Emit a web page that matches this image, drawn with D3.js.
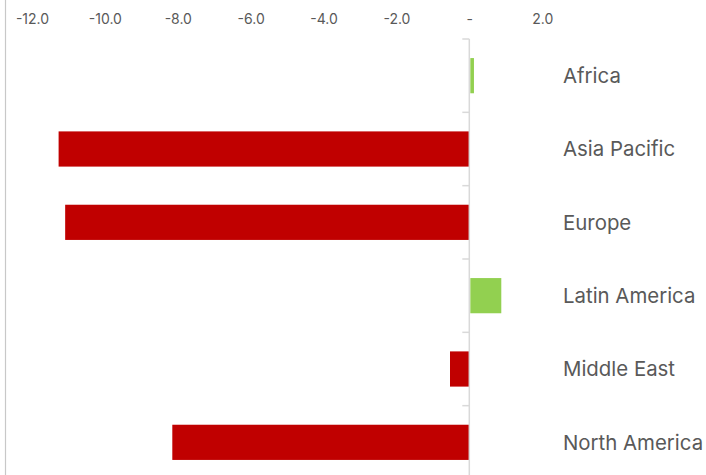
<!DOCTYPE html>
<html><head><meta charset="utf-8">
<script src="https://cdn.jsdelivr.net/npm/d3@7"></script>
<style>body{margin:0;background:#fff}svg{display:block}</style>
</head><body>
<svg id="c" width="706" height="475"></svg>
<script>
const categories = ["Africa","Asia Pacific","Europe","Latin America","Middle East","North America"];
const values = [0.1, -11.27, -11.09, 0.85, -0.53, -8.15];
const tickValues = [-12,-10,-8,-6,-4,-2,0,2];
const tickLabels = ["-12.0","-10.0","-8.0","-6.0","-4.0","-2.0","-","2.0"];

const svg = d3.select("#c");
const x = d3.scaleLinear().domain([-12, 2]).range([32, 542.2]);
const y = d3.scaleBand().domain(categories).range([39, 479]).paddingInner(0.52).paddingOuter(0.26);
const step = y.step(), bw = y.bandwidth();
const gap = (step - bw) / 2;

// left border line
svg.append("line").attr("x1",5.5).attr("x2",5.5).attr("y1",0).attr("y2",475)
  .attr("stroke","#c8c8c8").attr("stroke-width",1.2);

// top tick labels
const xAxis = d3.axisTop(x).tickValues(tickValues).tickSize(0)
  .tickFormat((d,i) => tickLabels[i]);
const gx = svg.append("g").attr("transform","translate(0,24)").call(xAxis);
gx.select(".domain").remove();
gx.selectAll("text").attr("dy",0).attr("y",0)
  .attr("font-family","Inter, 'Liberation Sans', sans-serif").attr("font-size",14)
  .attr("fill","#595959");

// bars
svg.selectAll("rect.bar").data(categories).join("rect").attr("class","bar")
  .attr("x",(d,i)=>x(Math.min(0,values[i])) + (values[i]>=0?1:0))
  .attr("width",(d,i)=>Math.abs(x(values[i])-x(0)))
  .attr("y",d=>y(d)).attr("height",bw)
  .attr("fill",(d,i)=>values[i]<0?"#C00000":"#92D050");

// zero category axis line
const x0 = x(0);
svg.append("line").attr("x1",x0).attr("x2",x0).attr("y1",39).attr("y2",480)
  .attr("stroke","#d9d9d9").attr("stroke-width",1.5);
// tick marks at band boundaries
const bounds = categories.map(d => y(d) - gap).concat([y(categories[categories.length-1]) + bw + gap]);
svg.selectAll("line.tk").data(bounds).join("line").attr("class","tk")
  .attr("x1",x0-7).attr("x2",x0).attr("y1",d=>d).attr("y2",d=>d)
  .attr("stroke","#d9d9d9").attr("stroke-width",1.5);

// category labels
svg.selectAll("text.cat").data(categories).join("text").attr("class","cat")
  .attr("x",563).attr("y",d=>y(d)+bw/2).attr("dy","0.36em")
  .attr("font-family","Inter, 'Liberation Sans', sans-serif").attr("font-size",20.4)
  .attr("fill","#595959").text(d=>d);
</script>
</body></html>
